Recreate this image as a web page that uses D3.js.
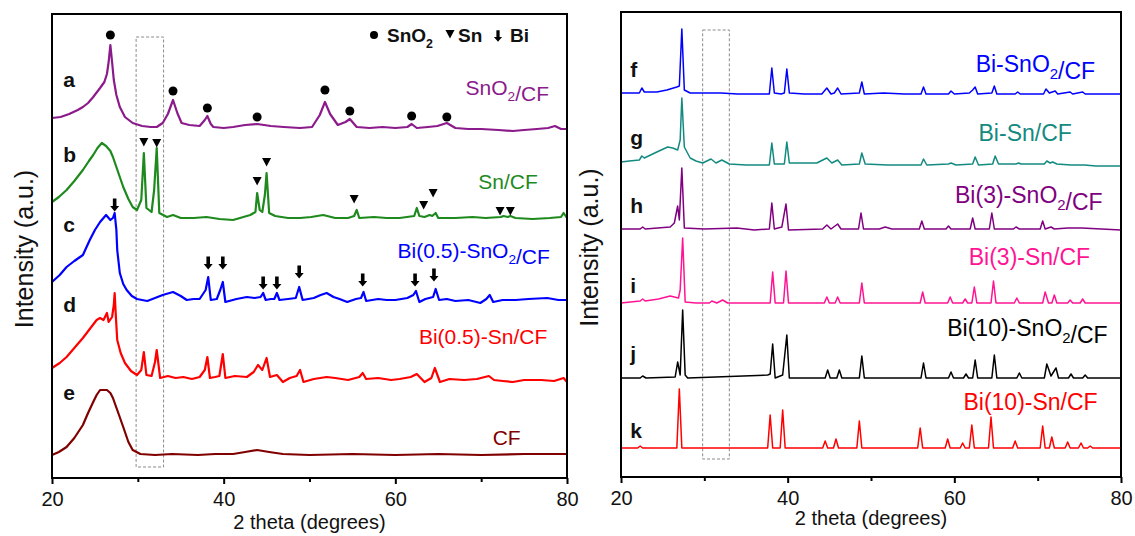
<!DOCTYPE html>
<html>
<head>
<script src="https://d3js.org/d3.v7.min.js"></script>
<style>
body {
  margin: 0;
  background: white;
  font-family: "Liberation Sans", Arial, Helvetica, sans-serif;
}
</style>
<title>XRD patterns</title>
</head>
<body>
<div id="chart"></div>

<script>
// ---------- data ----------
const xTicks = [20, 40, 60, 80];
const xMinorTicks = [30, 50, 70];
const boxRange = [29.8, 33.0];   // dashed highlight, 2 theta

// left panel: [2theta, intensity above the curve's own baseline]
const leftLetters = ["a", "b", "c", "d", "e"];
const leftNames = ["SnO2/CF", "Sn/CF", "Bi(0.5)-SnO2/CF", "Bi(0.5)-Sn/CF", "CF"];
const leftColors = ["#8B1A8B", "#1E8A1E", "#0000FF", "#FF0000", "#800000"];
const leftOffsets = [350, 260, 178, 98, 23];

const curveA = [[20,10],[21,11],[22,14],[23,18],[23.6,21],[24.2,25],[24.8,31],[25.6,40],[26.1,46],[26.4,54],[26.6,66],[26.8,83],[27.0,66],[27.2,48],[27.5,33],[27.9,21],[28.5,11],[29.4,5],[30.5,2],[31.5,1],[32.2,1],[32.9,5],[33.5,14],[34.1,28],[34.6,15],[35.1,5],[36,3],[37.2,2],[37.8,8],[38.1,12],[38.5,4],[38.8,1],[40,0],[41.1,1],[42.5,3],[43.9,4],[45.5,2],[47,1],[48.9,0],[50.3,1],[51.2,13],[51.8,26],[52.4,14],[53.3,3],[54.2,6],[54.7,9],[55.5,1],[57,0],[58.5,1],[60,0],[61.4,1],[61.9,4],[62.5,0],[63.8,1],[64.9,2],[66.0,5],[67.0,0],[68.5,-1],[70,-1],[72,-2],[73.7,-3],[75,-2],[76.5,-1],[77.8,0],[78.6,2],[79.3,-1],[80,-1]];
const curveB = [[20,16],[20.8,21],[21.7,28],[22.6,37],[23.6,48],[24.3,57],[24.8,63],[25.3,70],[25.8,75],[26.3,72],[26.8,67],[27.1,61],[27.7,46],[28.3,31],[28.9,19],[29.4,11],[29.9,8],[30.4,18],[30.7,65],[31.0,10],[31.6,6],[31.9,28],[32.2,70],[32.5,5],[33.4,1],[34.1,3],[35,0],[36.5,0],[38,1],[39.5,-1],[41.1,-2],[42.3,1],[43.1,3],[43.7,6],[43.9,25],[44.2,8],[44.5,6],[44.8,23],[45.0,45],[45.3,5],[46,2],[47.5,0],[48.9,0],[50.2,1],[51.6,3],[53,0],[54.5,0],[55.2,2],[55.5,8],[55.8,0],[57.5,1],[59,0],[60.5,0],[62.2,2],[62.5,10],[62.8,2],[63.4,1],[64.0,3],[64.3,2],[64.7,5],[65.0,0],[67,0],[69,1],[70.5,0],[72.3,1],[72.6,2],[73.1,1],[73.4,2],[74,0],[76,-1],[78,0],[79.3,1],[79.6,5],[80,0]];
const curveC = [[20,18],[20.9,25],[21.7,33],[22.6,39],[23.6,45],[24.4,60],[25.0,70],[25.6,78],[26.3,85],[26.6,82],[26.8,80],[27.1,82],[27.3,87],[27.5,70],[27.6,50],[27.9,27],[28.3,16],[28.7,10],[29.3,4],[29.9,1],[30.5,0],[31.1,-1],[32.0,2],[32.9,5],[34.1,8],[35.0,4],[35.7,0],[36.5,1],[37.2,1],[37.9,10],[38.2,23],[38.5,0],[39.2,1],[39.6,10],[39.9,18],[40.2,-2],[41.5,1],[42.7,3],[43.6,2],[44.3,3],[44.6,7],[44.9,0],[45.5,1],[45.9,1],[46.2,7],[46.5,0],[47.5,1],[48.4,2],[48.8,13],[49.2,0],[50.5,2],[51.3,5],[52.0,7],[52.8,3],[53.5,1],[54.4,-2],[55.4,1],[56.0,2],[56.3,8],[56.6,-1],[58,1],[59,0],[60,0],[61.4,2],[62.1,5],[62.4,9],[62.8,-2],[63.5,1],[64.4,3],[64.7,11],[65.1,0],[66,1],[67,-1],[68.5,0],[69.9,-3],[70.6,1],[71.0,5],[71.4,-2],[72.5,0],[74,0],[75.5,1],[77.7,2],[79,0],[80,0]];
const curveD = [[20,12],[20.9,17],[21.7,23],[22.6,32],[23.6,42],[24.4,51],[25.2,60],[25.6,62],[26.0,60],[26.4,67],[26.6,58],[27.0,63],[27.2,75],[27.3,87],[27.45,62],[27.6,40],[28.0,27],[28.5,17],[29.2,9],[29.9,5],[30.4,10],[30.7,28],[31.0,5],[31.6,4],[32.0,18],[32.2,30],[32.6,2],[33.5,4],[34.4,2],[35.3,3],[36.3,1],[37.2,3],[37.8,10],[38.1,23],[38.4,2],[39.0,3],[39.5,4],[39.9,26],[40.2,2],[41.3,4],[42.7,3],[43.5,8],[44.0,15],[44.5,10],[45.0,22],[45.4,3],[46.2,5],[46.9,-2],[47.7,2],[48.5,4],[48.9,10],[49.3,-2],[50.5,1],[52,3],[53,2],[54.5,0],[55.8,3],[56.2,7],[56.6,1],[58,2],[59.5,0],[60.5,1],[61.8,3],[62.5,6],[63.4,-2],[64.2,2],[64.6,12],[65.2,-2],[66.3,1],[68,0],[69.5,1],[70.9,4],[71.5,0],[72.5,-1],[73.7,-2],[75,0],[77,0],[78.5,-1],[79.6,2],[80,-2]];
const curveE = [[20,0],[20.8,3],[21.7,8],[22.6,17],[23.6,30],[24.2,42],[24.8,53],[25.2,60],[25.6,65],[26.4,65],[26.8,62],[27.1,57],[27.6,45],[28.3,28],[28.9,13],[29.4,5],[30.3,1],[32,0],[34,1],[37,0],[39,1],[41.1,1],[42.5,3],[43.9,5],[45.3,3],[46.9,1],[50,0],[55,1],[60,0],[65,1],[70,0],[75,1],[80,1]];

// phase markers: [2theta, height above curve baseline]
const sno2Peaks = [[26.8,93],[34.1,37],[38.1,20],[43.9,11],[51.8,38],[54.7,17],[61.9,12],[66.0,11]];  // on a
const snPeaks = [[30.7,76],[32.2,75],[43.9,37],[45.0,56],[55.2,19],[63.3,13],[64.4,25],[72.2,7],[73.4,7]];  // on b
const biPeaks = [[27.3,95],[38.2,37],[39.9,37],[44.6,17],[46.2,17],[48.8,28],[56.2,20],[62.3,20],[64.5,25]];  // on c

// right panel
const rightLetters = ["f", "g", "h", "i", "j", "k"];
const rightNames = ["Bi-SnO2/CF", "Bi-Sn/CF", "Bi(3)-SnO2/CF", "Bi(3)-Sn/CF", "Bi(10)-SnO2/CF", "Bi(10)-Sn/CF"];
const rightColors = ["#0000FF", "#138A80", "#800080", "#FF1493", "#000000", "#FF0000"];
const rightOffsets = [383, 312, 248, 174, 99, 29];

const curveF = [[20,1],[22.2,1],[22.5,6],[22.8,2],[24.3,2],[25.5,4],[26.7,7],[27.0,8],[27.3,65],[27.6,4],[28.3,1],[30,1],[32,1],[34,0],[35.5,0],[37.8,0],[38.1,26],[38.4,1],[39.2,0],[39.6,1],[39.9,25],[40.2,1],[42,0],[44.1,0],[44.7,6],[45.2,0],[45.6,1],[46.0,6],[46.4,0],[48.6,1],[48.9,12],[49.2,0],[51.5,1],[54,0],[56.0,0],[56.3,7],[56.6,0],[59.3,0],[59.6,3],[60.0,0],[61.8,1],[62.2,4],[62.5,7],[62.8,0],[64.5,1],[64.8,8],[65.1,0],[67.3,0],[67.6,2],[67.9,0],[70.7,0],[71.0,5],[71.4,1],[72.1,3],[72.4,0],[73.9,2],[74.2,0],[75.4,2],[75.7,0],[80,0]];
const curveG = [[20,3],[21,4],[22.2,5],[22.5,9],[22.8,7],[24.3,13],[25.6,18],[26.2,17],[26.8,15],[27.1,25],[27.3,67],[27.6,18],[28.3,7],[29.0,4],[29.8,2],[30.8,6],[31.4,2],[32.1,5],[33.0,1],[35,0],[37.8,0],[38.1,22],[38.4,1],[39.6,1],[39.9,23],[40.2,2],[42,2],[43.5,2],[44.7,7],[45.3,2],[46.0,5],[46.5,0],[48.6,1],[48.9,12],[49.3,1],[52,0],[56.0,0],[56.3,6],[56.7,0],[59.3,1],[59.6,2],[60.2,0],[62.2,1],[62.5,8],[62.9,0],[64.6,1],[64.9,9],[65.3,1],[67.4,1],[67.7,2],[68,1],[70.8,1],[71.1,4],[71.5,2],[71.8,3],[72.3,1],[74,0],[75.6,0],[77,-1],[80,-1]];
const curveH = [[20,0],[22.3,0],[22.6,2],[22.9,0],[25.9,2],[26.4,6],[26.8,23],[27.0,9],[27.3,61],[27.6,1],[30,0],[33.9,1],[36,-1],[37.8,0],[38.1,26],[38.4,0],[39.3,2],[39.8,25],[40.1,-1],[44.2,0],[44.7,4],[45.2,0],[46.0,5],[46.4,0],[48.5,0],[48.8,16],[49.1,0],[51.0,0],[51.7,2],[52.5,0],[55.8,0],[56.1,8],[56.4,0],[59.0,0],[59.3,3],[59.6,0],[61.9,0],[62.2,11],[62.5,0],[64.2,0],[64.5,16],[64.8,0],[67.1,0],[67.4,2],[67.8,0],[70.3,0],[70.6,8],[70.9,0],[71.6,2],[72,0],[73.6,1],[75.3,1],[80,-1]];
const curveI = [[20,0],[22.3,2],[22.6,4],[22.9,2],[24.5,4],[25.9,7],[26.9,5],[27.1,13],[27.4,65],[27.7,1],[29.0,0],[30.6,0],[30.9,2],[31.5,0],[32.2,3],[32.8,0],[37.9,0],[38.2,31],[38.5,0],[39.5,0],[39.8,32],[40.1,0],[44.4,0],[44.7,6],[45.0,0],[45.7,0],[46.0,6],[46.3,0],[48.6,0],[48.9,20],[49.2,0],[55.9,0],[56.2,11],[56.5,0],[59.2,0],[59.5,6],[59.8,0],[61.0,0],[61.3,4],[61.6,0],[62.1,0],[62.4,16],[62.7,0],[64.4,0],[64.7,22],[65.0,0],[67.2,0],[67.5,5],[67.8,0],[70.6,0],[70.9,11],[71.3,0],[71.7,0],[72.0,8],[72.3,0],[73.6,0],[73.9,3],[74.2,0],[75.1,0],[75.4,4],[75.7,0],[80,0]];
const curveJ = [[20,0],[22.3,0],[22.6,2],[23,0],[26.5,1],[26.8,16],[27.1,3],[27.4,68],[27.7,3],[28.0,0],[37.6,3],[37.9,4],[38.2,34],[38.5,0],[39.4,3],[39.9,43],[40.2,0],[44.5,0],[44.8,8],[45.1,0],[45.9,0],[46.2,8],[46.5,0],[48.6,0],[48.9,22],[49.2,0],[56.0,0],[56.3,15],[56.6,0],[59.3,0],[59.6,6],[59.9,0],[61.1,0],[61.4,4],[61.7,0],[62.2,0],[62.5,18],[62.8,0],[64.5,0],[64.8,23],[65.1,0],[67.5,0],[67.8,5],[68.1,0],[70.8,0],[71.1,14],[71.6,2],[72.2,10],[72.5,0],[73.7,0],[74.0,4],[74.3,0],[75.4,0],[75.7,3],[76,0],[80,0]];
const curveK = [[20,0],[22.0,0],[22.3,2],[22.6,0],[26.7,0],[27.0,59],[27.3,0],[37.6,0],[37.9,33],[38.2,0],[39.1,0],[39.4,38],[39.7,0],[44.2,0],[44.5,7],[44.8,0],[45.5,0],[45.8,9],[46.1,0],[48.3,0],[48.6,27],[48.9,0],[55.6,0],[55.9,20],[56.2,0],[58.9,0],[59.2,9],[59.5,0],[60.7,0],[61.0,5],[61.3,0],[61.8,0],[62.1,23],[62.4,0],[64.1,0],[64.4,31],[64.7,0],[67.0,0],[67.3,7],[67.6,0],[70.3,0],[70.6,22],[70.9,0],[71.4,0],[71.7,11],[72.0,0],[73.3,0],[73.6,6],[73.9,0],[74.9,0],[75.2,5],[75.5,0],[76.0,0],[76.3,2],[76.6,0],[80,0]];

// ---------- drawing ----------
const width = 1135;
const height = 536;
const FONT = "Liberation Sans, Arial, sans-serif";

const svg = d3.create("svg")
    .attr("width", width)
    .attr("height", height)
    .attr("viewBox", [0, 0, width, height])
    .attr("font-family", FONT);

// writes "SnO2" style labels with a subscript 2
function richText(sel, str, size) {
  const parts = str.split(/(O2)/);
  parts.forEach(p => {
    if (p === "O2") {
      sel.append("tspan").text("O");
      sel.append("tspan").attr("font-size", size * 0.65).attr("dy", size * 0.3).text("2");
      sel.append("tspan").attr("dy", -size * 0.3).text("");
    } else if (p) {
      sel.append("tspan").text(p);
    }
  });
}

function downArrow(cx, cy, s) {
  // shaft + head, cy = vertical center
  const h = 13 * s, w = 9 * s, sw = 3.6 * s;
  const top = cy - h / 2, neck = cy + h / 2 - 5.5 * s, tip = cy + h / 2;
  return `M${cx - sw / 2},${top}H${cx + sw / 2}V${neck}H${cx + w / 2}L${cx},${tip}L${cx - w / 2},${neck}H${cx - sw / 2}Z`;
}
function downTriangle(cx, cy) {
  return `M${cx - 4.5},${cy - 4}H${cx + 4.5}L${cx},${cy + 4.5}Z`;
}

function drawPanel(p) {
  const x = d3.scaleLinear().domain([20, 80]).range([p.left, p.right]);
  const y = d3.scaleLinear().domain([0, p.bottom - p.top]).range([p.bottom, p.top]);
  const g = svg.append("g");

  // dashed highlight box
  g.append("rect")
      .attr("x", x(boxRange[0]))
      .attr("y", y(p.boxY[1]))
      .attr("width", x(boxRange[1]) - x(boxRange[0]))
      .attr("height", y(p.boxY[0]) - y(p.boxY[1]))
      .attr("fill", "none")
      .attr("stroke", "#8a8a8a")
      .attr("stroke-width", 1)
      .attr("stroke-dasharray", "3,2");

  // patterns
  p.curves.forEach((c, i) => {
    const line = d3.line()
        .x(d => x(d[0]))
        .y(d => y(d[1] + p.offsets[i]));
    g.append("path")
        .datum(c)
        .attr("fill", "none")
        .attr("stroke", p.colors[i])
        .attr("stroke-width", p.lineWidth)
        .attr("stroke-linejoin", "round")
        .attr("d", line);
  });

  // frame
  g.append("rect")
      .attr("x", p.left).attr("y", p.top)
      .attr("width", p.right - p.left).attr("height", p.bottom - p.top)
      .attr("fill", "none").attr("stroke", "black").attr("stroke-width", 2);

  // x axis
  g.append("g")
      .attr("transform", `translate(0,${p.bottom})`)
      .call(d3.axisBottom(x).tickValues(xTicks).tickSize(6).tickPadding(8).tickFormat(d3.format("d")))
      .call(a => a.select(".domain").remove())
      .call(a => a.selectAll(".tick line").attr("stroke-width", 2))
      .call(a => a.selectAll("text").attr("font-size", 20).attr("font-family", FONT).attr("fill", "#111"));
  g.append("g")
      .attr("transform", `translate(0,${p.bottom})`)
      .call(d3.axisBottom(x).tickValues(xMinorTicks).tickSize(4).tickFormat(""))
      .call(a => a.select(".domain").remove())
      .call(a => a.selectAll(".tick line").attr("stroke-width", 2));

  g.append("text")
      .attr("x", (p.left + p.right) / 2)
      .attr("y", p.xTitleY)
      .attr("text-anchor", "middle")
      .attr("font-size", 20)
      .attr("fill", "#111")
      .text("2 theta (degrees)");

  g.append("text")
      .attr("transform", `translate(${p.yTitleX},${(p.top + p.bottom) / 2 + 3}) rotate(-90)`)
      .attr("text-anchor", "middle")
      .attr("font-size", 25)
      .attr("fill", "#111")
      .text("Intensity (a.u.)");

  // letters
  p.letters.forEach((l, i) => {
    g.append("text")
        .attr("x", x(p.letterX))
        .attr("y", y(p.letterY[i]))
        .attr("font-size", 21)
        .attr("font-weight", "bold")
        .attr("fill", "#111")
        .text(l);
  });

  // sample names
  p.names.forEach((n, i) => {
    const t = g.append("text")
        .attr("x", x(p.namePos[i][0]))
        .attr("y", y(p.namePos[i][1]))
        .attr("text-anchor", "end")
        .attr("font-size", p.nameSize)
        .attr("fill", p.colors[i]);
    richText(t, n, p.nameSize);
  });

  return {x, y, g};
}

// left panel
const L = drawPanel({
  left: 52, right: 567, top: 14, bottom: 478,
  curves: [curveA, curveB, curveC, curveD, curveE],
  offsets: leftOffsets, colors: leftColors, lineWidth: 2.2,
  letters: leftLetters, letterX: 21.3, letterY: [391, 316, 246, 166, 78],
  names: leftNames, nameSize: 21,
  namePos: [[77.9, 383], [76.6, 289], [78.0, 220], [77.7, 134], [74.6, 33]],
  boxY: [11, 441], xTitleY: 529, yTitleX: 33
});

// markers on left panel
L.g.append("g").selectAll("circle")
  .data(sno2Peaks)
  .join("circle")
    .attr("cx", d => L.x(d[0]))
    .attr("cy", d => L.y(d[1] + leftOffsets[0]))
    .attr("r", 4.5)
    .attr("fill", "black");
L.g.append("g").selectAll("path")
  .data(snPeaks)
  .join("path")
    .attr("d", d => downTriangle(L.x(d[0]), L.y(d[1] + leftOffsets[1])))
    .attr("fill", "black");
L.g.append("g").selectAll("path")
  .data(biPeaks)
  .join("path")
    .attr("d", d => downArrow(L.x(d[0]), L.y(d[1] + leftOffsets[2]), 1))
    .attr("fill", "black");

// legend
const lg = L.g.append("g").attr("font-size", 19).attr("font-weight", "bold").attr("fill", "#111");
lg.append("circle").attr("cx", 374).attr("cy", 35).attr("r", 4).attr("fill", "black");
richText(lg.append("text").attr("x", 387).attr("y", 42), "SnO2", 19);
lg.append("path").attr("d", downTriangle(450, 34)).attr("fill", "black");
lg.append("text").attr("x", 458).attr("y", 42).text("Sn");
lg.append("path").attr("d", downArrow(498, 36, 0.9)).attr("fill", "black");
lg.append("text").attr("x", 510).attr("y", 42).text("Bi");

// right panel
drawPanel({
  left: 621, right: 1121, top: 12, bottom: 477,
  curves: [curveF, curveG, curveH, curveI, curveJ, curveK],
  offsets: rightOffsets, colors: rightColors, lineWidth: 1.5,
  letters: rightLetters, letterX: 21.1, letterY: [400, 332, 264, 184, 116, 39],
  names: rightNames, nameSize: 23,
  namePos: [[76.9, 405], [74.1, 336], [77.8, 274], [76.3, 212], [78.4, 141], [77.2, 67]],
  boxY: [18, 447], xTitleY: 525, yTitleX: 598
});

document.getElementById("chart").appendChild(svg.node());
</script>
</body>
</html>
